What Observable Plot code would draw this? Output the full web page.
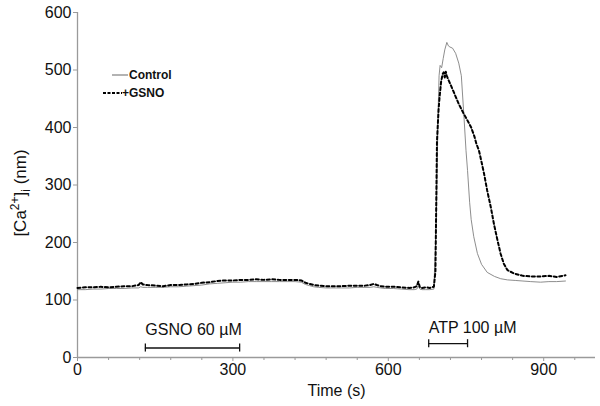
<!DOCTYPE html>
<html>
<head>
<meta charset="utf-8">
<script src="https://cdn.jsdelivr.net/npm/d3@7"></script>
<script src="https://cdn.jsdelivr.net/npm/@observablehq/plot@0.6"></script>
<style>
  html, body { margin: 0; padding: 0; background: white; }
  #chart { width: 600px; height: 406px; }
</style>
</head>
<body>
<div id="chart"></div>
<script>
// Series: Control (thin grey solid)
const controlTime = [0,15,30,45,60,75,90,105,118,122,126,135,150,165,180,195,210,225,240,255,270,285,300,315,330,345,360,375,390,405,420,432,440,448,456,465,480,495,510,525,540,555,565,572,578,585,595,610,625,640,650,655,658,661,665,672,680,688,693,696,698,700,703,706,709,713,716,719,724,730,736,741,746,750,753,757,760,765,772,780,791,805,817,830,845,860,875,894,910,925,942];
const controlCa   = [118,118,119,119,120,120,120,121,121,123,122,122,122,122,123,123,124,125,126,128,129,130,131,131,132,132,132,132,132,132,132,131,127,125,123,122,121,121,121,121,122,122,122,123,122,121,120,120,119,118,118,119,124,119,118,118,118,119,250,420,490,508,504,520,535,548,542,540,538,529,512,490,420,360,325,270,240,210,181,162,148,141,137,135,134,133,132,131,132,132,133];
// Series: +GSNO (thick black dashed)
const gsnoTime = [0,15,30,45,60,75,90,105,118,122,126,135,150,165,180,195,210,225,240,255,270,285,300,315,330,345,360,375,390,405,420,432,440,448,456,465,480,495,510,525,540,555,565,572,578,585,595,610,625,640,650,655,658,661,665,672,680,688,691,694,697,699,702,705,707,709,711,713,715,720,728,736,745,753,760,766,770,775,780,785,791,798,804,811,817,823,830,843,860,875,894,910,925,942];
const gsnoCa   = [121,122,122,123,122,123,124,124,126,131,127,126,125,124,126,126,127,128,130,131,133,134,134,135,135,136,135,136,135,135,135,134,130,128,126,125,124,124,124,125,125,125,126,128,126,124,123,123,122,121,122,124,132,122,121,122,121,123,150,377,430,453,480,493,496,487,497,490,485,475,458,441,425,412,400,385,372,360,340,319,290,261,232,203,180,163,152,146,142,141,141,142,140,143];

// Axis ticks
const xMajorTicks = [0, 300, 600, 900];
const xMinorTicks = [60, 120, 180, 240, 360, 420, 480, 540, 660, 720, 780, 840, 960];
const yTicks = [0, 100, 200, 300, 400, 500, 600];

// Treatment annotations
const treatLabels = ["GSNO 60 µM", "ATP 100 µM"];
const treatStart = [131, 678];
const treatEnd = [313, 753];
const treatBarY = [16.5, 24];
const treatTextY = [48.5, 52];
const capHalf = 7;

const control = controlTime.map((t, i) => ({t, v: controlCa[i]}));
const gsno = gsnoTime.map((t, i) => ({t, v: gsnoCa[i]}));
const treats = treatLabels.map((label, i) => ({label, x1: treatStart[i], x2: treatEnd[i], y: treatBarY[i], ty: treatTextY[i]}));
const caps = treats.flatMap(d => [{x: d.x1, y: d.y}, {x: d.x2, y: d.y}]);

const font = "'Liberation Sans', Arial, sans-serif";
const axisGrey = "#9a9a9a";
const dash = "3,2.5";

const plot = Plot.plot({
  width: 600,
  height: 406,
  marginLeft: 77,
  marginRight: 5,
  marginTop: 12,
  marginBottom: 49,
  style: {fontFamily: font, fontSize: "16px", color: "#111", background: "white", overflow: "visible"},
  x: {domain: [0, 1000]},
  y: {domain: [0, 600]},
  marks: [
    Plot.ruleY([0], {stroke: axisGrey, strokeWidth: 1.3}),
    Plot.ruleX([0], {stroke: axisGrey, strokeWidth: 1.3}),
    Plot.axisX({ticks: xMajorTicks, tickSize: 4, tickPadding: 2, stroke: axisGrey, fill: "#111", label: null, fontSize: 16}),
    Plot.axisX({ticks: xMinorTicks, tickSize: 3, text: null, stroke: axisGrey, label: null}),
    Plot.axisY({ticks: yTicks, tickSize: 4, tickPadding: 2, stroke: axisGrey, fill: "#111", label: null, fontSize: 16}),
    Plot.line(control, {x: "t", y: "v", stroke: "#808080", strokeWidth: 0.9}),
    Plot.line(gsno, {x: "t", y: "v", stroke: "#000", strokeWidth: 2, strokeDasharray: dash}),
    Plot.ruleY(treats, {x1: "x1", x2: "x2", y: "y", stroke: "#111", strokeWidth: 1.3}),
    Plot.ruleX(caps, {x: "x", y1: d => d.y - capHalf, y2: d => d.y + capHalf, stroke: "#111", strokeWidth: 1.3}),
    Plot.text(treats, {x: "x1", y: "ty", text: "label", textAnchor: "start", fontSize: 16, fill: "#111"}),
    Plot.text(["Time (s)"], {frameAnchor: "bottom", text: d => d, dy: 38, fontSize: 16, fill: "#111"})
  ]
});

const svg = d3.select(plot);

// Y axis label with superscript / subscript
const yl = svg.append("text")
  .attr("transform", "translate(26,193) rotate(-90)")
  .attr("text-anchor", "middle")
  .attr("font-family", font)
  .attr("font-size", 17)
  .attr("fill", "#111");
yl.append("tspan").text("[Ca");
yl.append("tspan").attr("dy", -7).attr("font-size", 12).text("2+");
yl.append("tspan").attr("dy", 7).text("]");
yl.append("tspan").attr("dy", 4).attr("font-size", 12).text("i");
yl.append("tspan").attr("dy", -4).text(" (nm)");

// Legend
const legendItems = ["Control", "+GSNO"];
const lg = svg.append("g").attr("font-family", font).attr("font-size", 12).attr("font-weight", "bold").attr("fill", "#111").attr("text-anchor", "start");
lg.append("line").attr("x1", 112).attr("x2", 128).attr("y1", 75).attr("y2", 75).attr("stroke", "#8a8a8a").attr("stroke-width", 1.3);
lg.append("text").attr("x", 129).attr("y", 75).attr("dy", "0.35em").text(legendItems[0]);
lg.append("line").attr("x1", 103).attr("x2", 122).attr("y1", 93).attr("y2", 93).attr("stroke", "#000").attr("stroke-width", 2).attr("stroke-dasharray", "3,1.5");
lg.append("text").attr("x", 122).attr("y", 93).attr("dy", "0.35em").text(legendItems[1]);

document.getElementById("chart").appendChild(plot);
</script>
</body>
</html>
